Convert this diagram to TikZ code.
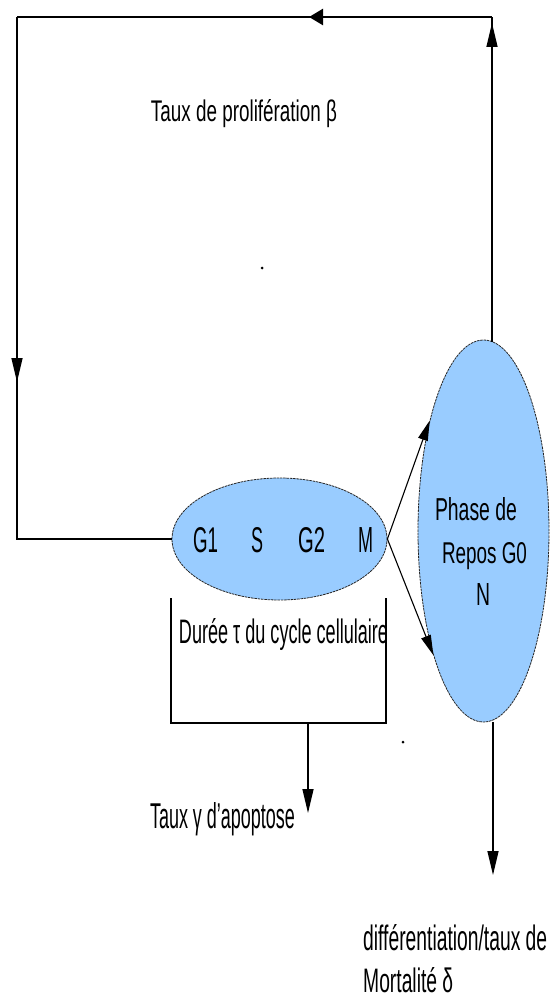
\documentclass[tikz,border=0pt]{standalone}
\usepackage{fontspec}
\setmainfont{Liberation Sans}
\usetikzlibrary{arrows.meta,shapes.geometric}
% text set to a given width and height (narrow, tall lettering)
\newcommand{\fittext}[3]{\resizebox{#1pt}{#2pt}{#3}}
\begin{document}
\begin{tikzpicture}[x=1pt,y=-1pt,
  line/.style={line width=1.4pt,black},
  toplinestyle/.style={line width=2.4pt,black},
  arrV/.style={-{Triangle[length=24pt,width=11pt]}},
  arrH/.style={-{Triangle[length=14pt,width=16pt]}},
  arrD/.style={-{Triangle[length=20pt,width=10pt]}},
  phase/.style={ellipse,fill={rgb,255:red,153;green,204;blue,255},draw=black!85,
    line width=0.8pt,dash pattern=on 2.5pt off 0.8pt,inner sep=0pt},
  lbl/.style={anchor=base,inner sep=0pt,text=black},
  speck/.style={circle,fill=black,inner sep=0pt,minimum size=3pt}]
\useasboundingbox (0,0) rectangle (551,998);

% the two compartments
\node[phase,minimum width=215pt,minimum height=122pt] (cyc) at (279.5,539) {};
\node[phase,minimum width=131pt,minimum height=382pt] (G0) at (483.5,531) {};

% corners and arrow tips of the proliferation loop
\coordinate (tr) at (492,17);
\coordinate (tl) at (17,17);
\coordinate (upTip) at (492,23);
\coordinate (topTip) at (309,17);
\coordinate (leftTip) at (17,382);

% loop lines, then arrowheads on top of them
\draw[line] (tr |- G0.87) -- (tr);
\draw[toplinestyle] (tr) -- (tl);
\draw[line] (tl) -- (tl |- cyc.west) -- (cyc.west);
\draw[line,arrV] (tr |- G0.87) -- (upTip);
\draw[toplinestyle,arrH] (tr) -- (topTip);
\draw[line,arrV] (tl) -- (leftTip);

% division: from M towards the resting phase
\draw[line width=1.1pt,arrD] (cyc.east) -- (G0.116);
\draw[line width=1.1pt,arrD] (cyc.east) -- (G0.248);

% bracket for the cycle duration and apoptosis outflow
\coordinate (bl) at (171,598);
\coordinate (bll) at (171,723);
\coordinate (brr) at (386,723);
\coordinate (br) at (386,598);
\coordinate (apoTop) at (308,723);
\coordinate (apoTip) at (308,813);
\draw[line] (bl) -- (bll) -- (brr) -- (br);
\draw[line,arrV] (apoTop) -- (apoTip);

% differentiation / mortality outflow
\coordinate (diffTip) at (493,875);
\draw[line,arrV] (diffTip |- G0.south) -- (diffTip);

% labels
\node[lbl] (beta) at (244,121) {\fittext{186}{22}{Taux de prolifération β}};
\node[lbl] (g1) at (205.5,552) {\fittext{25}{25}{G1}};
\node[lbl] (s) at (257,552) {\fittext{12}{25}{S}};
\node[lbl] (g2) at (311.5,552) {\fittext{27}{25}{G2}};
\node[lbl] (m) at (365.5,552) {\fittext{15}{25}{M}};
\node[lbl] (ph1) at (476,520) {\fittext{82}{23}{Phase de}};
\node[lbl] (ph2) at (484.5,563) {\fittext{85}{21}{Repos G0}};
\node[lbl] (ph3) at (483,605) {\fittext{14}{22}{N}};
\node[lbl] (tau) at (283.5,643) {\fittext{209}{25}{Durée τ du cycle cellulaire}};
\node[lbl] (gam) at (222.5,828) {\fittext{145}{26}{Taux γ d'apoptose}};
\node[lbl,anchor=base west] (dif1) at (363,950) {\fittext{184}{26}{différentiation/taux de}};
\node[lbl,anchor=base west] (dif2) at (363,992) {\fittext{90}{25}{Mortalité δ}};

% stray specks
\node[speck] (sp1) at (262,268) {};
\node[speck] (sp2) at (403,742) {};
\end{tikzpicture}
\end{document}
